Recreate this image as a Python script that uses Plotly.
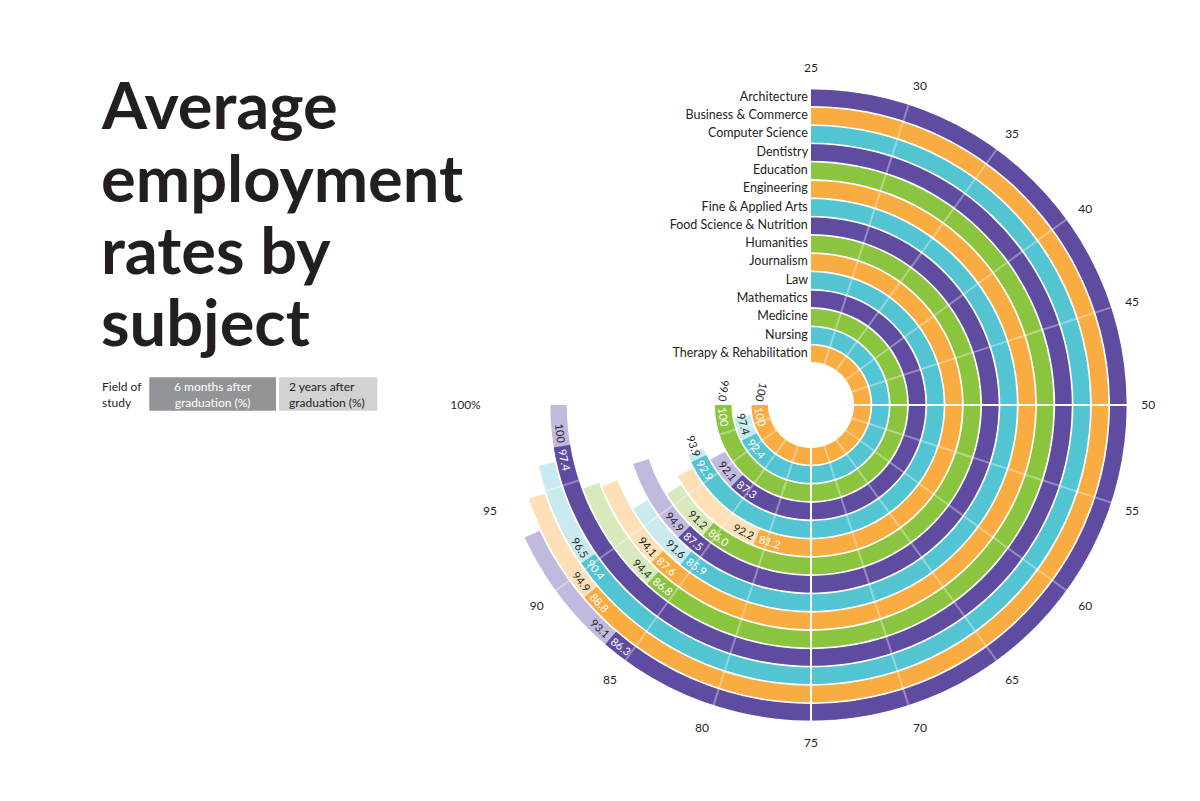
import math
import plotly.graph_objects as go

# ---------------- data (outermost ring first) ----------------
SUBJECTS = [
    "Architecture", "Business & Commerce", "Computer Science", "Dentistry",
    "Education", "Engineering", "Fine & Applied Arts", "Food Science & Nutrition",
    "Humanities", "Journalism", "Law", "Mathematics", "Medicine", "Nursing",
    "Therapy & Rehabilitation",
]
SIX_MONTHS = [86.3, 88.8, 90.4, 97.4, 86.8, 87.6, 85.9, 87.5, 86.0, 81.2, 92.9, 87.3, 100, 92.4, 100]
TWO_YEARS = [93.1, 94.9, 96.5, 100, 94.4, 94.1, 91.6, 94.9, 91.2, 92.2, 93.9, 92.1, 99.0, 97.4, 100]
SIX_LABELS = ["86.3", "88.8", "90.4", "97.4", "86.8", "87.6", "85.9", "87.5", "86.0", "81.2", "92.9", "87.3", "100", "92.4", "100"]
TWO_LABELS = ["93.1", "94.9", "96.5", "100", "94.4", "94.1", "91.6", "94.9", "91.2", "92.2", "93.9", "92.1", "99.0", "97.4", "100"]
PALETTE = ["purple", "orange", "teal", "purple", "green", "orange", "teal", "purple",
           "green", "orange", "teal", "purple", "green", "teal", "orange"]

TICK_VALUES = [25, 30, 35, 40, 45, 50, 55, 60, 65, 70, 75, 80, 85, 90, 95, 100]
TICK_TEXT = ["25", "30", "35", "40", "45", "50", "55", "60", "65", "70", "75", "80", "85", "90", "95", "100%"]
GRID_VALUES = [30, 35, 40, 45, 55, 60, 65, 70, 80, 85, 90, 95]
MAJOR_LINES = [50, 75]
START = 25

TITLE_LINES = ["Average", "employment", "rates by", "subject"]

# ---------------- style ----------------
DARK = {"purple": "#5F4BA0", "orange": "#F9AC41", "teal": "#53C4D1", "green": "#8BC43F"}
LIGHT = {"purple": "#C2B9DE", "orange": "#FDE0B8", "teal": "#C9EBEF", "green": "#D7E9BD"}
FONT = "Lato"
INK = "#231F20"

PAGE_MARGIN = 8            # default body margin of the html page
W, H = 1200 - 2 * PAGE_MARGIN, 801 - 2 * PAGE_MARGIN
CX, CY = 811 - PAGE_MARGIN, 405 - PAGE_MARGIN
R_OUT = 317.4
R_IN = 43
N = len(SUBJECTS)
BAR_FRAC = 0.9
DEG_PER_UNIT = 3.6


def th(v):
    return v * DEG_PER_UNIT


def px(xs, ys):
    """screen pixel -> paper coords"""
    return (xs - PAGE_MARGIN) / W, 1 - (ys - PAGE_MARGIN) / H


ring = [N - 1 - k for k in range(N)]  # radial index (0 = innermost)

fig = go.Figure()

# light bars (2 years)
fig.add_trace(go.Barpolar(
    theta=[th((START + v) / 2) for v in TWO_YEARS],
    width=[th(v - START) for v in TWO_YEARS],
    base=ring,
    r=[BAR_FRAC] * N,
    marker=dict(color=[LIGHT[p] for p in PALETTE], line=dict(width=0)),
    hoverinfo="skip", showlegend=False,
))
# dark bars (6 months)
fig.add_trace(go.Barpolar(
    theta=[th((START + v) / 2) for v in SIX_MONTHS],
    width=[th(v - START) for v in SIX_MONTHS],
    base=ring,
    r=[BAR_FRAC] * N,
    marker=dict(color=[DARK[p] for p in PALETTE], line=dict(width=0)),
    hoverinfo="skip", showlegend=False,
))

# grid lines over the bars
for v in GRID_VALUES:
    fig.add_trace(go.Scatterpolar(
        theta=[th(v), th(v)], r=[0, N], mode="lines",
        line=dict(color="rgba(255,255,255,0.35)", width=2),
        hoverinfo="skip", showlegend=False,
    ))
for v in MAJOR_LINES:
    fig.add_trace(go.Scatterpolar(
        theta=[th(v), th(v)], r=[0, N], mode="lines",
        line=dict(color="white", width=2),
        hoverinfo="skip", showlegend=False,
    ))

# subject labels at the start of each ring
fig.add_trace(go.Scatterpolar(
    theta=[th(START)] * N,
    r=[i + BAR_FRAC / 2 for i in ring],
    mode="text", text=[s + "\u00a0" for s in SUBJECTS], textposition="middle left",
    textfont=dict(family=FONT, size=12.5, color=INK),
    hoverinfo="skip", showlegend=False,
))

fig.update_layout(
    width=W, height=H,
    margin=dict(l=0, r=0, t=0, b=0),
    paper_bgcolor="white", plot_bgcolor="white",
    polar=dict(
        domain=dict(x=[(CX - R_OUT) / W, (CX + R_OUT) / W],
                    y=[1 - (CY + R_OUT) / H, 1 - (CY - R_OUT) / H]),
        bgcolor="white",
        hole=R_IN / R_OUT,
        radialaxis=dict(range=[0, N], visible=False, showgrid=False),
        angularaxis=dict(
            rotation=180, direction="clockwise", thetaunit="degrees",
            tickmode="array", tickvals=[th(v) for v in TICK_VALUES], ticktext=TICK_TEXT,
            showgrid=False, showline=False,
            ticks="outside", ticklen=10, tickcolor="rgba(0,0,0,0)",
            tickfont=dict(family=FONT, size=12, color=INK),
        ),
    ),
)

# rotated value labels
LABEL_SIZE = 11


def text_w(s):
    return sum(0.28 * LABEL_SIZE if c == "." else 0.56 * LABEL_SIZE for c in s)


annotations = []
for k in range(N):
    i = ring[k]
    r_px = R_IN + (i + BAR_FRAC / 2) / N * (R_OUT - R_IN)
    b = SIX_MONTHS[k]
    for lab, side, col in ((TWO_LABELS[k], 1, INK), (SIX_LABELS[k], -1, "white")):
        dphi = (text_w(lab) / 2 + 3) / r_px
        phi = math.radians(th(b - START)) + side * dphi
        x_px = CX + r_px * math.sin(phi)
        y_px = CY - r_px * math.cos(phi)
        annotations.append(dict(
            x=x_px / W, y=1 - y_px / H, xref="paper", yref="paper",
            text=lab, showarrow=False, textangle=math.degrees(phi) - 180,
            font=dict(family=FONT, size=LABEL_SIZE, color=col),
            xanchor="center", yanchor="middle",
        ))

# title
TITLE_Y = [104, 177, 249, 321]
for line, yp in zip(TITLE_LINES, TITLE_Y):
    x, y = px(99, yp)
    annotations.append(dict(
        x=x, y=y, xref="paper", yref="paper", text="<b>%s</b>" % line,
        showarrow=False, xanchor="left", yanchor="middle",
        font=dict(family=FONT, size=65, color=INK),
    ))

# legend key
x, y = px(100, 394)
annotations.append(dict(x=x, y=y, xref="paper", yref="paper",
                        text="Field of<br>study", showarrow=False, xanchor="left", yanchor="middle",
                        align="left", font=dict(family=FONT, size=12, color=INK)))
x, y = px(212.6, 394)
annotations.append(dict(x=x, y=y, xref="paper", yref="paper",
                        text="6 months after<br>graduation (%)", showarrow=False, xanchor="center",
                        yanchor="middle", align="center", font=dict(family=FONT, size=12, color="white")))
x, y = px(287, 394)
annotations.append(dict(x=x, y=y, xref="paper", yref="paper",
                        text="2 years after<br>graduation (%)", showarrow=False, xanchor="left",
                        yanchor="middle", align="left", font=dict(family=FONT, size=12, color=INK)))

bx0, by0 = px(149.3, 410.7)
bx1, by1 = px(276, 377.3)
lx0, _ = px(279, 410.7)
lx1, _ = px(377.3, 377.3)
shapes = [
    dict(type="rect", xref="paper", yref="paper", x0=bx0, x1=bx1, y0=by0, y1=by1,
         fillcolor="#929497", line=dict(width=0), layer="below"),
    dict(type="rect", xref="paper", yref="paper", x0=lx0, x1=lx1, y0=by0, y1=by1,
         fillcolor="#D1D2D4", line=dict(width=0), layer="below"),
]

fig.update_layout(annotations=annotations, shapes=shapes)
fig.write_html("out.html")
